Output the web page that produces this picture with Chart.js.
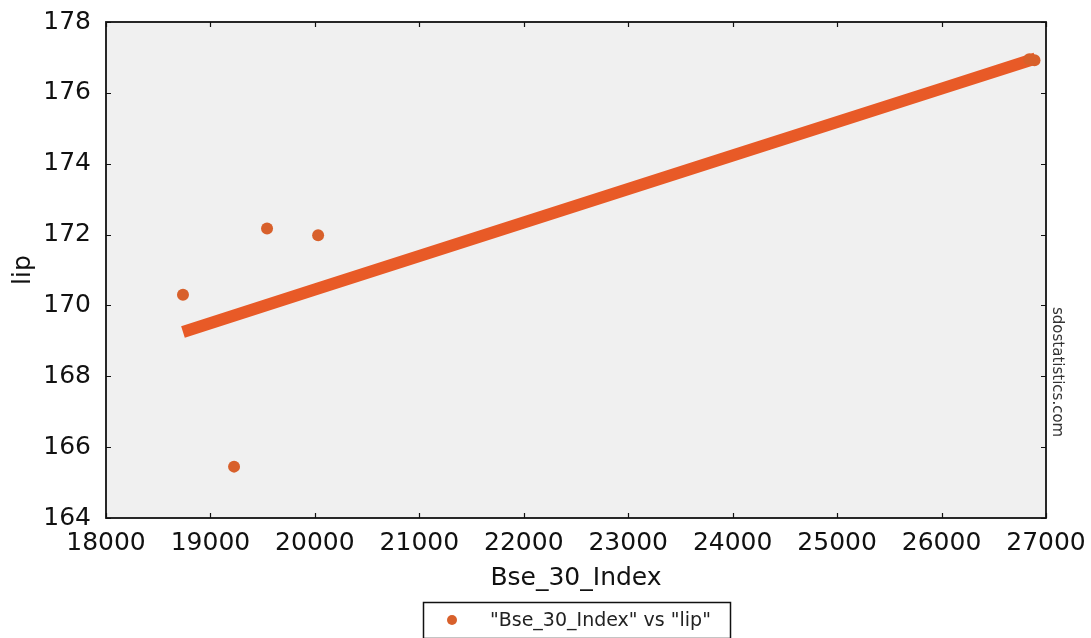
<!DOCTYPE html>
<html>
<head>
<meta charset="utf-8">
<script src="https://cdn.jsdelivr.net/npm/chart.js@4/dist/chart.umd.min.js"></script>
<style>
html,body{margin:0;padding:0;background:#fff;}
canvas{display:block;}
</style>
</head>
<body>
<canvas id="c" width="1091" height="638"></canvas>
<script>
// ---- data ----
const xTitle = 'Bse_30_Index';
const yTitle = 'lip';
const seriesLabel = '"Bse_30_Index" vs "lip"';
const watermark = 'sdostatistics.com';
const xTicks = [18000, 19000, 20000, 21000, 22000, 23000, 24000, 25000, 26000, 27000];
const yTicks = [164, 166, 168, 170, 172, 174, 176, 178];
// observed scatter points
const obsX = [18737, 19542, 20031, 19226, 26840, 26890];
const obsY = [170.30, 172.17, 171.98, 165.45, 176.95, 176.92];
// dense fitted band (read along the band)
const fitX = [18737, 20000, 22000, 24000, 26000, 26899];
const fitY = [169.25, 170.45, 172.34, 174.23, 176.12, 176.97];

const FONT = 'DejaVu Sans';
const ORANGE_LINE = '#e85a27';
const ORANGE_PT = '#d8602b';

const framePlugin = {
  id: 'frame',
  beforeDatasetsDraw(chart) {
    const {ctx, chartArea: a} = chart;
    ctx.save();
    ctx.fillStyle = '#f0f0f0';
    ctx.fillRect(a.left, a.top, a.right - a.left, a.bottom - a.top);
    ctx.restore();
  },
  afterDatasetsDraw(chart) {
    const {ctx, chartArea: a, scales: {x, y}} = chart;
    ctx.save();
    ctx.strokeStyle = '#111';
    ctx.lineWidth = 1.2;
    const L = 5;
    ctx.beginPath();
    xTicks.forEach(v => {
      const px = Math.round(x.getPixelForValue(v)) + 0.5;
      ctx.moveTo(px, a.bottom); ctx.lineTo(px, a.bottom - L);
      ctx.moveTo(px, a.top); ctx.lineTo(px, a.top + L);
    });
    yTicks.forEach(v => {
      const py = Math.round(y.getPixelForValue(v)) + 0.5;
      ctx.moveTo(a.left, py); ctx.lineTo(a.left + L, py);
      ctx.moveTo(a.right, py); ctx.lineTo(a.right - L, py);
    });
    ctx.stroke();
    ctx.lineWidth = 1.8;
    ctx.strokeRect(a.left, a.top, a.right - a.left, a.bottom - a.top);
    // watermark
    ctx.fillStyle = '#333';
    ctx.font = '15px ' + FONT;
    ctx.translate(a.right + 6, 307);
    ctx.rotate(Math.PI / 2);
    ctx.textBaseline = 'middle';
    ctx.textAlign = 'left';
    ctx.fillText(watermark, 0, -5);
    ctx.restore();
  },
  afterDraw(chart) {
    const {ctx} = chart;
    ctx.save();
    // legend box
    ctx.fillStyle = '#fff';
    ctx.fillRect(423, 602, 307, 36);
    ctx.strokeStyle = '#111';
    ctx.lineWidth = 1.5;
    ctx.strokeRect(423.5, 602.5, 307, 36);
    ctx.fillStyle = ORANGE_PT;
    ctx.beginPath();
    ctx.arc(452, 620, 5, 0, Math.PI * 2);
    ctx.fill();
    ctx.fillStyle = '#222';
    ctx.font = '19px ' + FONT;
    ctx.textBaseline = 'middle';
    ctx.textAlign = 'left';
    ctx.fillText(seriesLabel, 490, 621);
    ctx.restore();
  }
};

new Chart(document.getElementById('c'), {
  type: 'scatter',
  data: {
    datasets: [
      {
        type: 'line',
        label: 'fit',
        data: fitX.map((v, i) => ({x: v, y: fitY[i]})),
        borderColor: ORANGE_LINE,
        borderWidth: 12,
        borderCapStyle: 'butt',
        pointRadius: 0,
        fill: false,
        order: 2
      },
      {
        label: seriesLabel,
        data: obsX.map((v, i) => ({x: v, y: obsY[i]})),
        backgroundColor: ORANGE_PT,
        borderColor: ORANGE_PT,
        pointRadius: 6,
        pointBorderWidth: 0,
        order: 1
      }
    ]
  },
  options: {
    responsive: false,
    animation: false,
    layout: {padding: {top: 16, right: 45, bottom: 38, left: 0}},
    plugins: {legend: {display: false}, tooltip: {enabled: false}},
    scales: {
      x: {
        type: 'linear',
        min: 18000, max: 27000,
        afterBuildTicks(s) { s.ticks = xTicks.map(v => ({value: v})); },
        afterFit(s) { s.height = 82; },
        grid: {display: false},
        border: {display: false},
        ticks: {
          font: {family: FONT, size: 25},
          color: '#111',
          padding: 2,
          maxRotation: 0,
          callback: v => String(v)
        },
        title: {
          display: true, text: xTitle,
          font: {family: FONT, size: 25}, color: '#111',
          padding: {top: 0, bottom: 7}
        }
      },
      y: {
        type: 'linear',
        min: 164, max: 178,
        afterBuildTicks(s) { s.ticks = yTicks.map(v => ({value: v})); },
        afterFit(s) { s.width = 106; },
        grid: {display: false},
        border: {display: false},
        ticks: {
          font: {family: FONT, size: 25},
          color: '#111',
          padding: 7,
          callback: v => String(v)
        },
        title: {
          display: true, text: yTitle,
          font: {family: FONT, size: 25}, color: '#111',
          padding: {top: 8, bottom: 0}
        }
      }
    }
  },
  plugins: [framePlugin]
});
</script>
</body>
</html>
